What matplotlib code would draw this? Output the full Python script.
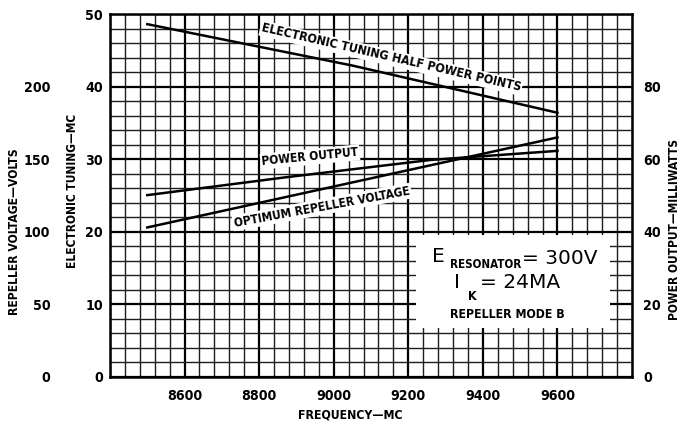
import matplotlib
matplotlib.use('Agg')
import matplotlib.pyplot as plt
from matplotlib import font_manager as fm
from matplotlib.ticker import MultipleLocator
from matplotlib.patches import Rectangle

# ---- data ----
freq_tuning = [8500, 9050, 9600]
tuning_mc = [48.6, 42.9, 36.4]
freq_power = [8500, 8870, 9260, 9600]
power_mw = [50.1, 55.0, 59.8, 62.3]
freq_repeller = [8500, 9050, 9600]
repeller_v = [103, 134, 165]

freq_ticks = [8600, 8800, 9000, 9200, 9400, 9600]
tuning_ticks = [0, 10, 20, 30, 40, 50]
volt_ticks = [0, 50, 100, 150, 200]
power_ticks = [0, 20, 40, 60, 80]

# ---- fonts: look for a condensed bold face ----
def find_condensed():
    best = None
    best_score = -1
    for f in fm.fontManager.ttflist:
        nm = f.name.lower()
        st = str(f.stretch).lower()
        fn = f.fname.lower()
        w = f.weight
        try:
            w = int(w)
        except Exception:
            w = 700 if 'bold' in str(w) else 400
        is_cond = ('narrow' in nm or 'condensed' in nm or 'condensed' in st
                   or 'condensed' in fn or 'narrow' in fn)
        if not is_cond:
            continue
        if 'extra' in st or 'ultra' in st or 'extra' in fn or 'ultra' in fn:
            continue
        if 'italic' in fn or 'oblique' in fn or str(f.style) != 'normal':
            continue
        score = 0
        if 600 <= w <= 750:
            score += 10
        if 'semi' not in st and 'semi' not in fn:
            score += 3
        if 'liberation' in nm:
            score += 2
        if score > best_score:
            best_score = score
            best = f.fname
    return best

cond_file = find_condensed()
if cond_file:
    def CFP(size):
        return fm.FontProperties(fname=cond_file, size=size)
else:
    def CFP(size):
        return fm.FontProperties(family='DejaVu Sans', weight='bold', size=size * 0.85)

def RFP(size):
    return fm.FontProperties(family='DejaVu Sans', weight='normal', size=size)

fig = plt.figure(figsize=(6.82, 4.33), dpi=100)
W, H = 682, 433
L, R, T, B = 110, 632, 14, 377
rect = [L / W, (H - B) / H, (R - L) / W, (B - T) / H]
ax = fig.add_axes(rect)

ax.set_xlim(8400, 9800)
ax.set_ylim(0, 50)
ax.xaxis.set_minor_locator(MultipleLocator(40))
ax.yaxis.set_minor_locator(MultipleLocator(2))
ax.set_xticks(freq_ticks)
ax.set_yticks(tuning_ticks)
ax.set_axisbelow(True)
ax.grid(which='minor', color='#1e1e1e', lw=1.0)
ax.grid(which='major', color='black', lw=1.6)
ax.tick_params(which='both', length=0)
ax.tick_params(axis='x', pad=9)
ax.tick_params(axis='y', pad=5)
TICK = 10.2
for lab in ax.get_xticklabels() + ax.get_yticklabels():
    lab.set_fontproperties(CFP(TICK))
for s in ax.spines.values():
    s.set_linewidth(1.8)

# curves
ax.plot(freq_tuning, tuning_mc, color='black', lw=1.8, zorder=3)
axv = ax.twinx()
axv.set_ylim(0, 250)
axp = ax.twinx()
axp.set_ylim(0, 100)
axp.plot(freq_power, power_mw, color='black', lw=1.8, zorder=3)
axv.plot(freq_repeller, repeller_v, color='black', lw=1.8, zorder=3)

axv.yaxis.tick_left()
axv.set_yticks(volt_ticks)
axv.tick_params(length=0, pad=43)
axp.set_yticks(power_ticks)
axp.tick_params(length=0, pad=8)
for a in (axv, axp):
    for s in a.spines.values():
        s.set_visible(False)
    for lab in a.get_yticklabels():
        lab.set_fontproperties(CFP(TICK))

# axis titles
fig.text(15 / W, 1 - 232 / H, 'REPELLER VOLTAGE\u2014VOLTS', rotation=90,
         ha='center', va='center', fontproperties=CFP(8.7))
fig.text(72 / W, 1 - 191 / H, 'ELECTRONIC TUNING\u2014MC', rotation=90,
         ha='center', va='center', fontproperties=CFP(8.6))
fig.text(674 / W, 1 - 229 / H, 'POWER OUTPUT\u2014MILLIWATTS', rotation=90,
         ha='center', va='center', fontproperties=CFP(8.6))
fig.text(350 / W, 1 - 415 / H, 'FREQUENCY\u2014MC', ha='center', va='center',
         fontproperties=CFP(8.8))

# curve labels
bb = dict(facecolor='white', edgecolor='none', pad=1.0)
def fx(px):
    return (px - L) / (R - L)
def fy(py):
    return (B - py) / (B - T)

ax.text(fx(391), fy(58), 'ELECTRONIC TUNING HALF POWER POINTS', transform=ax.transAxes,
        rotation=-13, ha='center', va='center', bbox=bb, zorder=2, fontproperties=CFP(8.9))
ax.text(fx(310), fy(157), 'POWER OUTPUT', transform=ax.transAxes,
        rotation=5.5, ha='center', va='center', bbox=bb, zorder=2, fontproperties=CFP(8.6))
ax.text(fx(322), fy(207), 'OPTIMUM REPELLER VOLTAGE', transform=ax.transAxes,
        rotation=10.5, ha='center', va='center', bbox=bb, zorder=2, fontproperties=CFP(8.6))

# condition box
ax.add_patch(Rectangle((fx(416), fy(328)), fx(610) - fx(416), fy(235) - fy(328),
                       transform=ax.transAxes, facecolor='white', edgecolor='none', zorder=1.5))
ax.text(fx(438), fy(257), 'E', transform=ax.transAxes, ha='center', va='center',
        zorder=2.5, fontproperties=RFP(14.5))
ax.text(fx(450), fy(265), 'RESONATOR', transform=ax.transAxes, ha='left', va='center',
        zorder=2.5, fontproperties=CFP(8.3))
ax.text(fx(597), fy(258), '= 300V', transform=ax.transAxes, ha='right', va='center',
        zorder=2.5, fontproperties=RFP(14.5))
ax.text(fx(457), fy(283), 'I', transform=ax.transAxes, ha='center', va='center',
        zorder=2.5, fontproperties=RFP(14.5))
ax.text(fx(472), fy(296), 'K', transform=ax.transAxes, ha='center', va='center',
        zorder=2.5, fontproperties=CFP(9))
ax.text(fx(480), fy(283), '= 24MA', transform=ax.transAxes, ha='left', va='center',
        zorder=2.5, fontproperties=RFP(14.5))
ax.text(fx(450), fy(315), 'REPELLER MODE B', transform=ax.transAxes, ha='left', va='center',
        zorder=2.5, fontproperties=CFP(8.8))

fig.savefig('out.png', dpi=100, facecolor='white')
